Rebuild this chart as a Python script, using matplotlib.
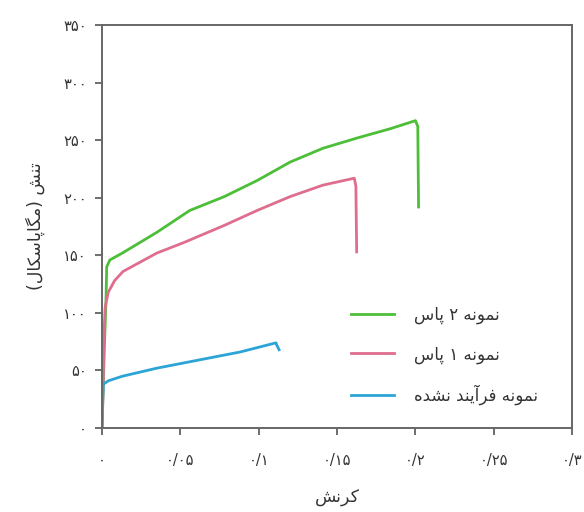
import re
import matplotlib
matplotlib.use('Agg')
import matplotlib.pyplot as plt

# stress-strain data (strain, MPa)
green_strain = [0, 0.0015, 0.0025, 0.003, 0.005, 0.013, 0.035, 0.056, 0.078, 0.099, 0.12, 0.141, 0.163, 0.184, 0.2, 0.2015, 0.202]
green_stress = [0, 70, 110, 140, 146, 152, 170, 189, 201, 215, 231, 243, 252, 260, 267, 262, 192]

pink_strain = [0, 0.0008, 0.0012, 0.002, 0.004, 0.008, 0.0134, 0.035, 0.052, 0.078, 0.099, 0.12, 0.141, 0.161, 0.162, 0.1625]
pink_stress = [0, 40, 80, 105, 118, 128, 136, 152, 161, 176, 189, 201, 211, 217, 210, 153]

blue_strain = [0, 0.0003, 0.0008, 0.004, 0.013, 0.035, 0.069, 0.088, 0.111, 0.1115, 0.113]
blue_stress = [0, 20, 38, 41, 45, 52, 61, 66, 74, 72, 68]

labels = ['نمونه ۲ پاس', 'نمونه ۱ پاس', 'نمونه فرآیند نشده']
xlabel = 'کرنش'
ylabel = 'تنش (مگاپاسکال)'

xticks = [0, 0.05, 0.1, 0.15, 0.2, 0.25, 0.3]
xticklabels = ['۰', '۰/۰۵', '۰/۱', '۰/۱۵', '۰/۲', '۰/۲۵', '۰/۳']
yticks = [0, 50, 100, 150, 200, 250, 300, 350]
yticklabels = ['۰', '۵۰', '۱۰۰', '۱۵۰', '۲۰۰', '۲۵۰', '۳۰۰', '۳۵۰']

# matplotlib has no arabic shaping -> presentation forms (iso, fin, ini, med), then reverse
FORMS = {
    'ا': ('\uFE8D', '\uFE8E', None, None),
    'آ': ('\uFE81', '\uFE82', None, None),
    'د': ('\uFEA9', '\uFEAA', None, None),
    'ر': ('\uFEAD', '\uFEAE', None, None),
    'و': ('\uFEED', '\uFEEE', None, None),
    'ت': ('\uFE95', '\uFE96', '\uFE97', '\uFE98'),
    'پ': ('\uFB56', '\uFB57', '\uFB58', '\uFB59'),
    'س': ('\uFEB1', '\uFEB2', '\uFEB3', '\uFEB4'),
    'ش': ('\uFEB5', '\uFEB6', '\uFEB7', '\uFEB8'),
    'ف': ('\uFED1', '\uFED2', '\uFED3', '\uFED4'),
    'ک': ('\uFB8E', '\uFB8F', '\uFB90', '\uFB91'),
    'گ': ('\uFB92', '\uFB93', '\uFB94', '\uFB95'),
    'ل': ('\uFEDD', '\uFEDE', '\uFEDF', '\uFEE0'),
    'م': ('\uFEE1', '\uFEE2', '\uFEE3', '\uFEE4'),
    'ن': ('\uFEE5', '\uFEE6', '\uFEE7', '\uFEE8'),
    'ه': ('\uFEE9', '\uFEEA', '\uFEEB', '\uFEEC'),
    'ی': ('\uFBFC', '\uFBFD', '\uFBFE', '\uFBFF'),
}


def fa(text):
    out = []
    for i, ch in enumerate(text):
        if ch not in FORMS:
            out.append(ch)
            continue
        prev = text[i - 1] if i > 0 else ''
        nxt = text[i + 1] if i + 1 < len(text) else ''
        j_prev = prev in FORMS and FORMS[prev][2] is not None
        j_next = nxt in FORMS and FORMS[ch][2] is not None
        iso, fin, ini, med = FORMS[ch]
        if j_prev and j_next:
            out.append(med)
        elif j_prev:
            out.append(fin)
        elif j_next:
            out.append(ini)
        else:
            out.append(iso)
    vis = ''.join(out)[::-1].translate(str.maketrans('()', ')('))
    return re.sub(r'[۰-۹0-9/]+', lambda m: m.group(0)[::-1], vis)


plt.rcParams['font.family'] = ['DejaVu Sans']

fig = plt.figure(figsize=(5.84, 5.12), dpi=100)
ax = fig.add_axes([0.1747, 0.164, 0.805, 0.787])

ax.plot(green_strain, green_stress, color='#4cbe37', lw=2.0, label=fa(labels[0]), solid_joinstyle='round')
ax.plot(pink_strain, pink_stress, color='#df6d8e', lw=2.0, label=fa(labels[1]), solid_joinstyle='round')
ax.plot(blue_strain, blue_stress, color='#2ba4d6', lw=2.0, label=fa(labels[2]), solid_joinstyle='round')

ax.set_xlim(0, 0.3)
ax.set_ylim(0, 350)
ax.set_xticks(xticks)
ax.set_xticklabels(xticklabels)
ax.set_yticks(yticks)
ax.set_yticklabels(yticklabels)
ax.tick_params(direction='out', length=5, width=1.2, color='#555555', labelcolor='#333333', labelsize=10.5, pad=6)
ax.tick_params(axis='x', pad=13)
for s in ax.spines.values():
    s.set_color('#666666')
    s.set_linewidth(1.4)

ax.set_xlabel(fa(xlabel), fontsize=12.5, color='#333333', labelpad=15)
ax.set_ylabel(fa(ylabel), fontsize=12.5, color='#333333', labelpad=13)

leg = ax.legend(loc='upper left', bbox_to_anchor=(0.498, 0.34), frameon=False, fontsize=12,
                handlelength=2.6, handletextpad=1.2, labelspacing=1.25)
for t in leg.get_texts():
    t.set_color('#333333')

plt.savefig('out.png', dpi=100)
plt.close()
